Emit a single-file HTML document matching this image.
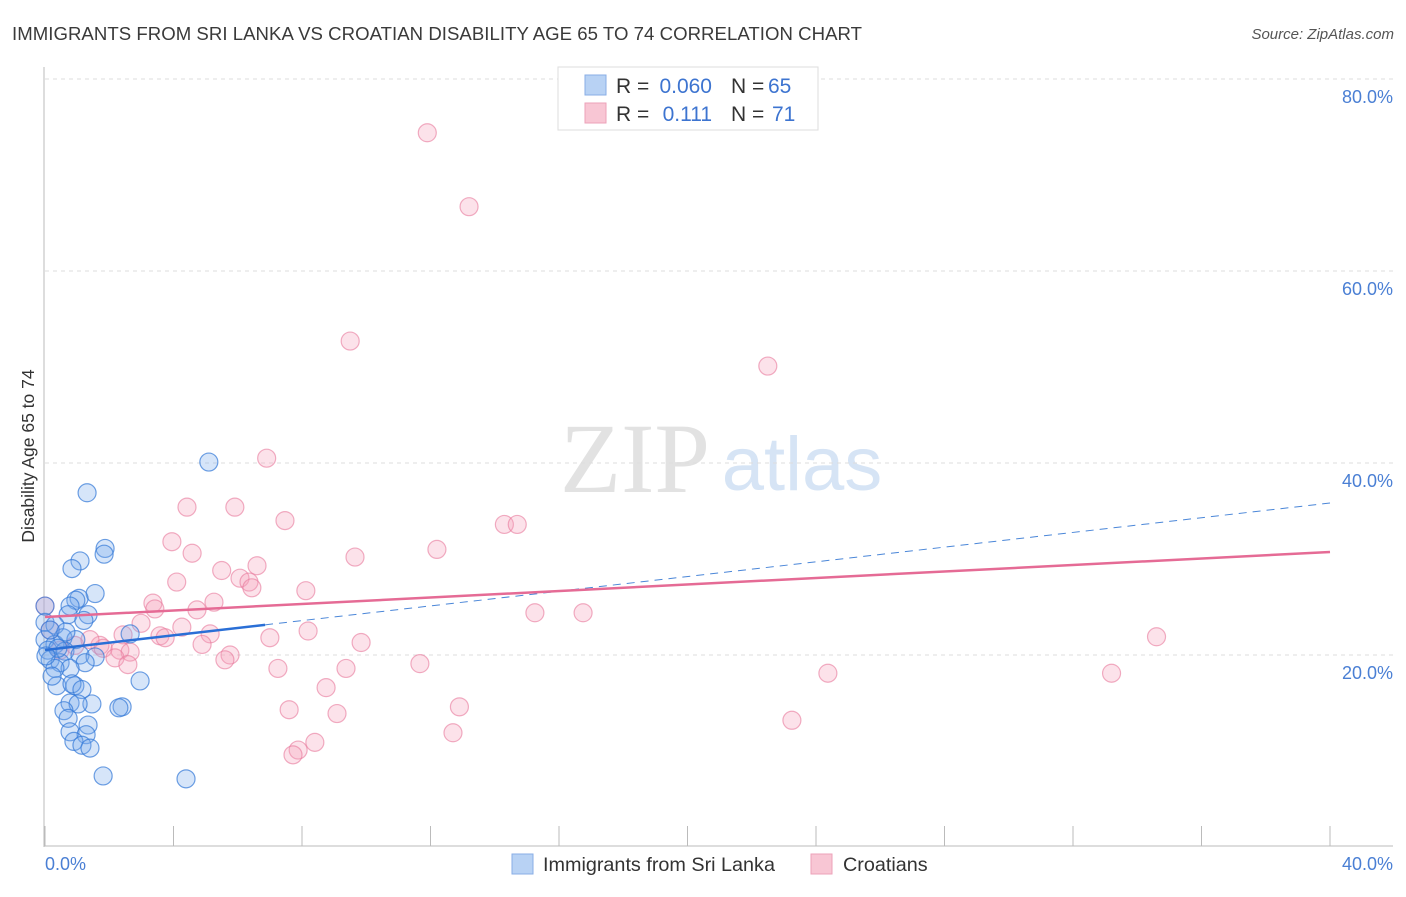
<!DOCTYPE html>
<html><head><meta charset="utf-8"><style>
body{margin:0;background:#fff;width:1406px;height:892px;overflow:hidden;font-family:"Liberation Sans",sans-serif}
</style></head><body>
<svg id="chart" width="1406" height="892" xmlns="http://www.w3.org/2000/svg" font-family="Liberation Sans, sans-serif">
<text x="12" y="40" font-size="18.6" fill="#3a3a3a" textLength="850">IMMIGRANTS FROM SRI LANKA VS CROATIAN DISABILITY AGE 65 TO 74 CORRELATION CHART</text>
<text x="1394" y="39" font-size="15" fill="#555" font-style="italic" text-anchor="end">Source: ZipAtlas.com</text>
<text x="34" y="456" font-size="17.5" fill="#333" text-anchor="middle" transform="rotate(-90 34 456)">Disability Age 65 to 74</text>
<g>
<text x="635" y="492" font-size="100" fill="#e2e2e2" font-family="Liberation Serif, serif" text-anchor="middle">ZIP</text>
<text x="802" y="490" font-size="76" fill="#d6e4f5" text-anchor="middle">atlas</text>
</g>
<g id="grid"></g>
<line x1="44" y1="67" x2="44" y2="847" stroke="#bbb"/>
<line x1="44" y1="846" x2="1393" y2="846" stroke="#bbb"/>
<g id="xticks"></g>
<g id="marks"></g>
<g id="trends"></g>
<text x="45" y="870" font-size="18" fill="#4a7fd4">0.0%</text>
<text x="1393" y="870" font-size="18" fill="#4a7fd4" text-anchor="end">40.0%</text>
<g font-size="21">
<rect x="558" y="67" width="260" height="63" fill="#fff" stroke="#ddd"/>
<rect x="585" y="75" width="21" height="20" fill="#b8d2f4" stroke="#88aee6"/>
<rect x="585" y="103" width="21" height="20" fill="#f8c6d4" stroke="#eca2b9"/>
<text x="616" y="93" fill="#333">R =</text>
<text x="712" y="93" fill="#3d74d0" text-anchor="end">0.060</text>
<text x="731" y="93" fill="#333">N =</text>
<text x="768" y="93" fill="#3d74d0">65</text>
<text x="616" y="121" fill="#333">R =</text>
<text x="712" y="121" fill="#3d74d0" text-anchor="end">0.111</text>
<text x="731" y="121" fill="#333">N =</text>
<text x="772" y="121" fill="#3d74d0">71</text>
</g>
<g>
<rect x="512" y="854" width="21" height="20" fill="#b8d2f4" stroke="#88aee6"/>
<text x="543" y="871" font-size="19.8" fill="#333">Immigrants from Sri Lanka</text>
<rect x="811" y="854" width="21" height="20" fill="#f8c6d4" stroke="#eca2b9"/>
<text x="843" y="871" font-size="19.8" fill="#333">Croatians</text>
</g>
</svg>
<script>
const yTicks=[20,40,60,80];
const yTickLabels=["20.0%","40.0%","60.0%","80.0%"];
const xTicks=[0,4,8,12,16,20,24,28,32,36,40];
const blueX=[5.1,1.31,1.87,1.84,1.09,0.84,1.56,1.06,0.96,0.78,0,0.72,1.34,1.21,0,0.31,2.65,0.56,0.96,0,0.31,0.09,0.62,1.09,1.56,0.16,0.47,1.25,0.78,0.31,2.96,0.37,0.93,0.84,1.15,1.46,2.4,2.3,0.78,1.03,0.59,0.72,1.34,0.78,1.28,0.9,1.15,1.4,1.81,4.39,0.16,0.4,0.65,0.03,0.22];
const blueY=[40.1,36.9,31.1,30.5,29.8,29.0,26.4,25.9,25.7,25.1,25.1,24.2,24.2,23.6,23.4,23.1,22.2,21.8,21.6,21.6,21.1,20.5,20.4,20.0,19.8,19.5,19.2,19.2,18.6,18.6,17.3,16.8,16.8,17.0,16.4,14.9,14.6,14.5,15.0,14.9,14.2,13.4,12.7,12.0,11.7,11.0,10.6,10.3,7.4,7.1,22.6,20.7,22.4,19.9,17.8];
const pinkX=[11.9,13.2,9.5,22.5,6.9,4.42,5.91,7.47,14.3,14.7,3.95,4.58,12.2,9.65,6.6,5.5,4.1,6.07,6.35,6.44,8.12,3.36,5.26,3.42,4.73,15.25,16.75,4.26,2.99,2.43,8.19,3.58,3.74,5.14,7.0,34.6,9.84,1.71,1.81,4.89,5.76,0,2.33,2.65,2.18,5.6,11.67,2.58,7.25,9.37,24.37,33.2,8.75,7.6,12.9,9.09,23.25,12.7,8.4,7.88,7.72,0.47,0.93,1.4,0.16];
const pinkY=[74.4,66.7,52.7,50.1,40.5,35.4,35.4,34.0,33.6,33.6,31.8,30.6,31.0,30.2,29.3,28.8,27.6,28.0,27.6,27.0,26.7,25.4,25.5,24.8,24.7,24.4,24.4,22.9,23.3,22.1,22.5,22.0,21.8,22.2,21.8,21.9,21.3,21.0,20.7,21.1,20.0,25.1,20.5,20.3,19.7,19.5,19.1,19.0,18.6,18.6,18.1,18.1,16.6,14.3,14.6,13.9,13.2,11.9,10.9,10.1,9.6,20.5,21.0,21.6,22.6];
const pinkTrend=[23.96,30.73];
const blueTrend=[20.52,35.83];
const blueSolidEnd=6.85;
const NS="http://www.w3.org/2000/svg";
const xs=v=>45+v*32.125, ys=v=>847-v*9.6;
function mk(tag,attrs,parent){const e=document.createElementNS(NS,tag);for(const k in attrs)e.setAttribute(k,attrs[k]);document.getElementById(parent).appendChild(e);return e;}
yTicks.forEach((t,i)=>{
 const g=mk('line',{x1:45,x2:1393,y1:ys(t),y2:ys(t),stroke:'#ddd','stroke-dasharray':'4,4'},'grid');
 
 
 const l=mk('text',{x:1393,y:ys(t)+24,'font-size':18,fill:'#4a7fd4','text-anchor':'end'},'grid');
 l.textContent=yTickLabels[i];
 
 
});
xTicks.forEach(t=>{
 const l=mk('line',{x1:xs(t),x2:xs(t),y1:826,y2:846,stroke:'#bbb'},'xticks');
 
 
});
pinkX.forEach((x,i)=>{
 const c=mk('circle',{cx:xs(x),cy:ys(pinkY[i]),r:9,fill:'rgba(244,160,185,0.3)',stroke:'rgba(232,120,155,0.6)','stroke-width':1.2},'marks');
 
 
});
blueX.forEach((x,i)=>{
 const c=mk('circle',{cx:xs(x),cy:ys(blueY[i]),r:9,fill:'rgba(120,170,235,0.3)',stroke:'rgba(50,120,215,0.7)','stroke-width':1.2},'marks');
 
 
});
const bAt=x=>blueTrend[0]+(blueTrend[1]-blueTrend[0])*x/40;
const bd=mk('line',{x1:xs(blueSolidEnd),y1:ys(bAt(blueSolidEnd)),x2:xs(40),y2:ys(blueTrend[1]),stroke:'#4a86d8','stroke-width':1,'stroke-dasharray':'8,6'},'trends');


const pt=mk('line',{x1:xs(0),y1:ys(pinkTrend[0]),x2:xs(40),y2:ys(pinkTrend[1]),stroke:'#e56b95','stroke-width':2.5},'trends');


const bs=mk('line',{x1:xs(0),y1:ys(blueTrend[0]),x2:xs(blueSolidEnd),y2:ys(bAt(blueSolidEnd)),stroke:'#2a6fd6','stroke-width':2.5},'trends');


</script>
</body></html>
